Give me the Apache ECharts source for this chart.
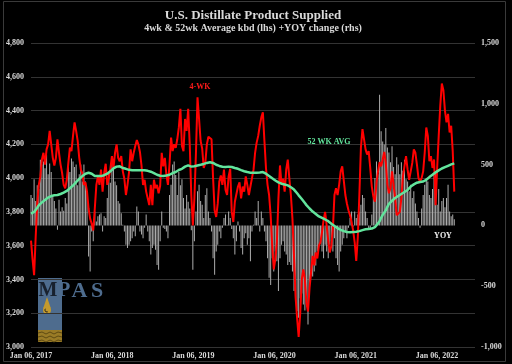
<!DOCTYPE html>
<html><head><meta charset="utf-8">
<script src="https://cdn.jsdelivr.net/npm/echarts@6/dist/echarts.min.js"></script>
<style>html,body{margin:0;padding:0;background:#000;}#chart{width:512px;height:364px;}</style>
</head><body><div id="chart"></div>
<script>
// Weekly data starting Jan 06, 2017
const startYear = 2017;
const xTickLabels = ['Jan 06, 2017','Jan 06, 2018','Jan 06, 2019','Jan 06, 2020','Jan 06, 2021','Jan 06, 2022'];
const leftTicks = [3000,3200,3400,3600,3800,4000,4200,4400,4600,4800];
const rightTicks = [-1000,-500,0,500,1000,1500];

const fourWeek = [
3630,3520,3425,3650,3850,3960,4010,4110,4150,4080,
4170,4200,4280,4200,4120,4075,4120,4230,4150,4080,
4030,3960,3940,3990,4090,4180,4160,4250,4330,4280,
4220,4120,4050,4030,3960,3975,3920,3820,3760,3730,
3690,3820,3960,4010,3960,4050,3920,4030,4085,3960,
4000,4055,4130,4060,4150,4200,4120,4100,4130,4040,
3996,3900,3960,4036,4170,4100,4150,4190,4225,4200,
4155,4075,3960,3990,3920,3880,3840,3960,3840,3990,
3940,3960,3910,3955,4150,4070,4120,4020,3960,4080,
4240,4160,4200,4180,4230,4300,4410,4190,4160,4350,
4280,4410,4200,3900,3720,3880,4150,4479,4350,4220,
4175,4060,4090,4200,4245,4256,4230,4000,3810,3770,
3850,3980,4016,3960,4050,3930,3900,4010,4055,3800,
3740,3860,3860,3950,3975,3880,3950,3920,4010,3960,
3900,3950,4000,4050,4150,4210,4250,4310,4360,4390,
4220,4060,3960,3900,3780,3600,3460,3520,3620,3880,
4075,3960,3996,3920,4050,4110,4000,3900,3760,3540,
3300,3170,3060,3200,3400,3460,3400,3260,3210,3350,
3445,3540,3484,3560,3524,3600,3620,3680,3750,3800,
3720,3630,3560,3600,3700,3900,3940,3900,3960,4040,
4070,4060,3900,3850,3810,3780,3740,3690,3620,3510,
3650,3900,4180,4290,4300,4170,4140,4160,4060,3950,
3890,3860,3970,4040,4095,4070,4110,4155,4090,3960,
3910,3940,4040,4030,3880,3780,3770,3800,3880,4010,
4000,4130,4050,3990,4040,4090,4170,4150,4080,4000,
3980,4000,4040,4150,4300,4250,4100,4130,4060,4110,
3840,4060,4250,4430,4560,4520,4400,4330,4380,4270,
4310,4160,3920
];

const fiftyTwoWeek = [
3790,3795,3800,3810,3825,3839,3848,3856,3864,3871,
3878,3885,3890,3894,3896,3898,3899,3900,3902,3906,
3910,3914,3918,3924,3932,3940,3947,3956,3966,3976,
3986,3995,4004,4012,4020,4026,4030,4032,4029,4026,
4018,4012,4011,4012,4012,4012,4014,4017,4021,4026,
4032,4040,4050,4058,4064,4068,4071,4070,4066,4060,
4057,4055,4052,4049,4047,4046,4046,4046,4047,4046,
4046,4046,4045,4046,4046,4043,4040,4038,4036,4030,
4024,4020,4016,4014,4012,4012,4013,4015,4016,4020,
4025,4030,4034,4036,4042,4048,4052,4055,4062,4068,
4072,4075,4070,4068,4069,4070,4072,4075,4077,4079,
4081,4084,4087,4090,4092,4094,4095,4090,4084,4079,
4075,4072,4069,4067,4065,4066,4067,4068,4069,4066,
4063,4060,4057,4055,4051,4047,4044,4041,4038,4036,
4034,4032,4032,4032,4032,4032,4032,4033,4035,4036,
4032,4026,4020,4013,4006,3999,3992,3986,3980,3975,
3970,3967,3964,3962,3961,3957,3952,3946,3940,3932,
3922,3910,3898,3888,3876,3864,3852,3840,3830,3820,
3810,3802,3795,3788,3780,3773,3768,3764,3760,3755,
3751,3745,3738,3730,3722,3716,3710,3704,3698,3694,
3690,3686,3683,3681,3680,3680,3680,3681,3681,3682,
3684,3686,3688,3692,3695,3697,3698,3699,3700,3701,
3705,3710,3720,3732,3745,3765,3782,3796,3810,3830,
3848,3858,3866,3874,3882,3888,3894,3900,3906,3912,
3918,3924,3930,3940,3950,3957,3963,3968,3973,3977,
3977,3977,3980,3985,3990,3998,4006,4013,4020,4027,
4034,4040,4046,4052,4057,4061,4065,4069,4073,4077,
4081,4084,4087
];

const yoyChange = [
250,225,380,200,330,300,540,500,525,470,
580,420,510,440,250,200,140,-35,210,115,
150,120,225,180,500,440,550,525,480,500,
330,420,500,360,500,360,280,-255,-380,-50,
-130,115,33,75,90,100,-50,75,60,225,
440,350,565,470,360,330,200,180,100,5,
-50,-160,-185,-160,-130,-105,-50,-90,155,115,
-50,-75,-105,-20,90,-50,-130,-240,-185,-160,
-200,-325,-365,-130,115,-20,-30,-50,-105,250,
335,500,525,415,250,440,330,380,225,140,
250,195,140,-40,-365,-130,115,280,335,200,
170,60,250,305,115,60,-50,-270,-405,-215,
-160,-50,-105,-20,60,90,5,115,60,-30,
-105,-240,-130,33,-50,-185,-240,-105,-65,-160,
-105,-295,-50,5,115,60,200,-50,115,60,
-50,-130,-270,-430,-490,-270,-380,-215,-295,-540,
-270,-160,-130,-215,-240,-325,-300,-325,-380,-540,
-600,-705,-760,-600,-560,-650,-700,-650,-815,-490,
-380,-420,-380,-330,-215,-160,-130,-215,-270,-160,
-215,-270,-160,-130,-215,-105,-270,-325,-380,-215,
-160,-105,-50,-105,-20,60,115,-10,115,60,
90,115,170,250,225,115,60,-25,-30,90,
225,390,525,420,1075,775,690,665,800,640,
600,520,650,480,420,560,500,420,520,450,
540,380,360,280,335,225,280,180,115,60,
-20,140,250,335,390,360,250,225,300,415,
440,170,300,115,200,225,150,225,335,115,
75,90,50
];

// x position of each weekly point, in years since Jan 06, 2017
const weekYears = fourWeek.map((_, i) => i * 7 / 365.25);
const pair = arr => arr.map((v, i) => [weekYears[i], v]);

const serif = "'Liberation Serif','Times New Roman',serif";
const labelColor = '#d9d9d9';
const fmt = v => Number(v).toLocaleString('en-US');

const chart = echarts.init(document.getElementById('chart'), null, {renderer: 'canvas'});
chart.setOption({
  backgroundColor: '#000',
  animation: false,
  grid: {left: 31, right: 37, top: 43, bottom: 17, containLabel: false},
  xAxis: {
    type: 'value', min: 0, max: 5.468, interval: 1,
    axisLine: {show: false}, axisTick: {show: false}, splitLine: {show: false},
    axisLabel: {
      color: labelColor, fontFamily: serif, fontWeight: 'bold', fontSize: 8, margin: 5,
      formatter: v => Math.abs(v - Math.round(v)) < 1e-6 ? (xTickLabels[Math.round(v)] || '') : ''
    }
  },
  yAxis: [
    {type: 'value', position: 'left', min: leftTicks[0], max: leftTicks[leftTicks.length-1], interval: 200,
     axisLine: {show: false}, axisTick: {show: false},
     splitLine: {show: true, lineStyle: {color: '#333', width: 1}},
     axisLabel: {color: labelColor, fontFamily: serif, fontWeight: 'bold', fontSize: 8, margin: 7, formatter: fmt}},
    {type: 'value', position: 'right', min: rightTicks[0], max: rightTicks[rightTicks.length-1], interval: 500,
     axisLine: {show: false}, axisTick: {show: false}, splitLine: {show: false},
     axisLabel: {color: labelColor, fontFamily: serif, fontWeight: 'bold', fontSize: 8, margin: 6, formatter: fmt}}
  ],
  series: [
    {name: 'YOY', type: 'bar', yAxisIndex: 1, data: pair(yoyChange), barWidth: 1,
     itemStyle: {color: '#adadad'}, z: 2},
    {name: '4-WK', type: 'line', yAxisIndex: 0, data: pair(fourWeek), showSymbol: false,
     lineStyle: {color: '#ff0000', width: 2}, z: 3},
    {name: '52 WK AVG', type: 'line', yAxisIndex: 0, data: pair(fiftyTwoWeek), showSymbol: false,
     lineStyle: {color: '#62e49c', width: 2.5}, z: 4}
  ],
  graphic: [
    {type: 'rect', z: 0, shape: {x: 3.5, y: 1.5, width: 502, height: 360},
     style: {fill: null, stroke: '#3a3a3a', lineWidth: 1}},
    {type: 'text', x: 253, y: 15.5, style: {text: 'U.S. Distillate Product Supplied', fill: labelColor,
      font: "bold 13px 'Liberation Serif'", textAlign: 'center', textVerticalAlign: 'middle'}},
    {type: 'text', x: 253, y: 28.5, style: {text: '4wk & 52wk Average kbd (lhs) +YOY change (rhs)', fill: labelColor,
      font: "bold 10px 'Liberation Serif'", textAlign: 'center', textVerticalAlign: 'middle'}},
    {type: 'text', x: 200, y: 87, z: 10, style: {text: '4-WK', fill: '#ff1a1a',
      font: "bold 8px 'Liberation Serif'", textAlign: 'center', textVerticalAlign: 'middle'}},
    {type: 'text', x: 329, y: 142, z: 10, style: {text: '52 WK AVG', fill: '#62e49c',
      font: "bold 8px 'Liberation Serif'", textAlign: 'center', textVerticalAlign: 'middle'}},
    {type: 'text', x: 443, y: 236, z: 10, style: {text: 'YOY', fill: '#f0f0f0',
      font: "bold 8px 'Liberation Serif'", textAlign: 'center', textVerticalAlign: 'middle'}},
    // MPAS logo
    {type: 'group', z: 1, children: [
      {type: 'rect', shape: {x: 38, y: 278, width: 24, height: 64}, style: {fill: '#4e6c8e'}},
      {type: 'text', x: 48, y: 291, style: {text: 'M', fill: '#18212e', font: "bold 20px 'Liberation Serif'", textAlign: 'center', textVerticalAlign: 'middle'}},
      {type: 'text', x: 64, y: 291, style: {text: 'P', fill: '#4e6c8e', font: "bold 21px 'Liberation Serif'", textAlign: 'center', textVerticalAlign: 'middle'}},
      {type: 'text', x: 79.5, y: 291, style: {text: 'A', fill: '#4e6c8e', font: "bold 22px 'Liberation Serif'", textAlign: 'center', textVerticalAlign: 'middle'}},
      {type: 'text', x: 97, y: 291, style: {text: 'S', fill: '#4e6c8e', font: "bold 22px 'Liberation Serif'", textAlign: 'center', textVerticalAlign: 'middle'}},
      {type: 'polygon', shape: {points: [[47, 297], [43.3, 308], [50.7, 308]]}, style: {fill: '#c49a2c'}},
      {type: 'circle', shape: {cx: 47, cy: 310, r: 4}, style: {fill: '#c49a2c'}},
      {type: 'arc', shape: {cx: 47, cy: 310, r: 2, startAngle: 1.2, endAngle: 3.8}, style: {stroke: '#1a1a1a', lineWidth: 1, fill: null}},
      {type: 'rect', shape: {x: 38, y: 330, width: 24, height: 12}, style: {fill: '#9a7b26'}},
      {type: 'polyline', shape: {points: [[38,333],[42,332],[46,334],[50,332],[54,334],[58,332],[62,333]]}, style: {stroke: '#5e4a12', lineWidth: 1, fill: null}},
      {type: 'polyline', shape: {points: [[38,337],[42,336],[46,338],[50,336],[54,338],[58,336],[62,337]]}, style: {stroke: '#5e4a12', lineWidth: 1, fill: null}},
      {type: 'polyline', shape: {points: [[38,341],[42,340],[46,342],[50,340],[54,342],[58,340],[62,341]]}, style: {stroke: '#5e4a12', lineWidth: 1, fill: null}}
    ]}
  ]
});
</script>
</body></html>
